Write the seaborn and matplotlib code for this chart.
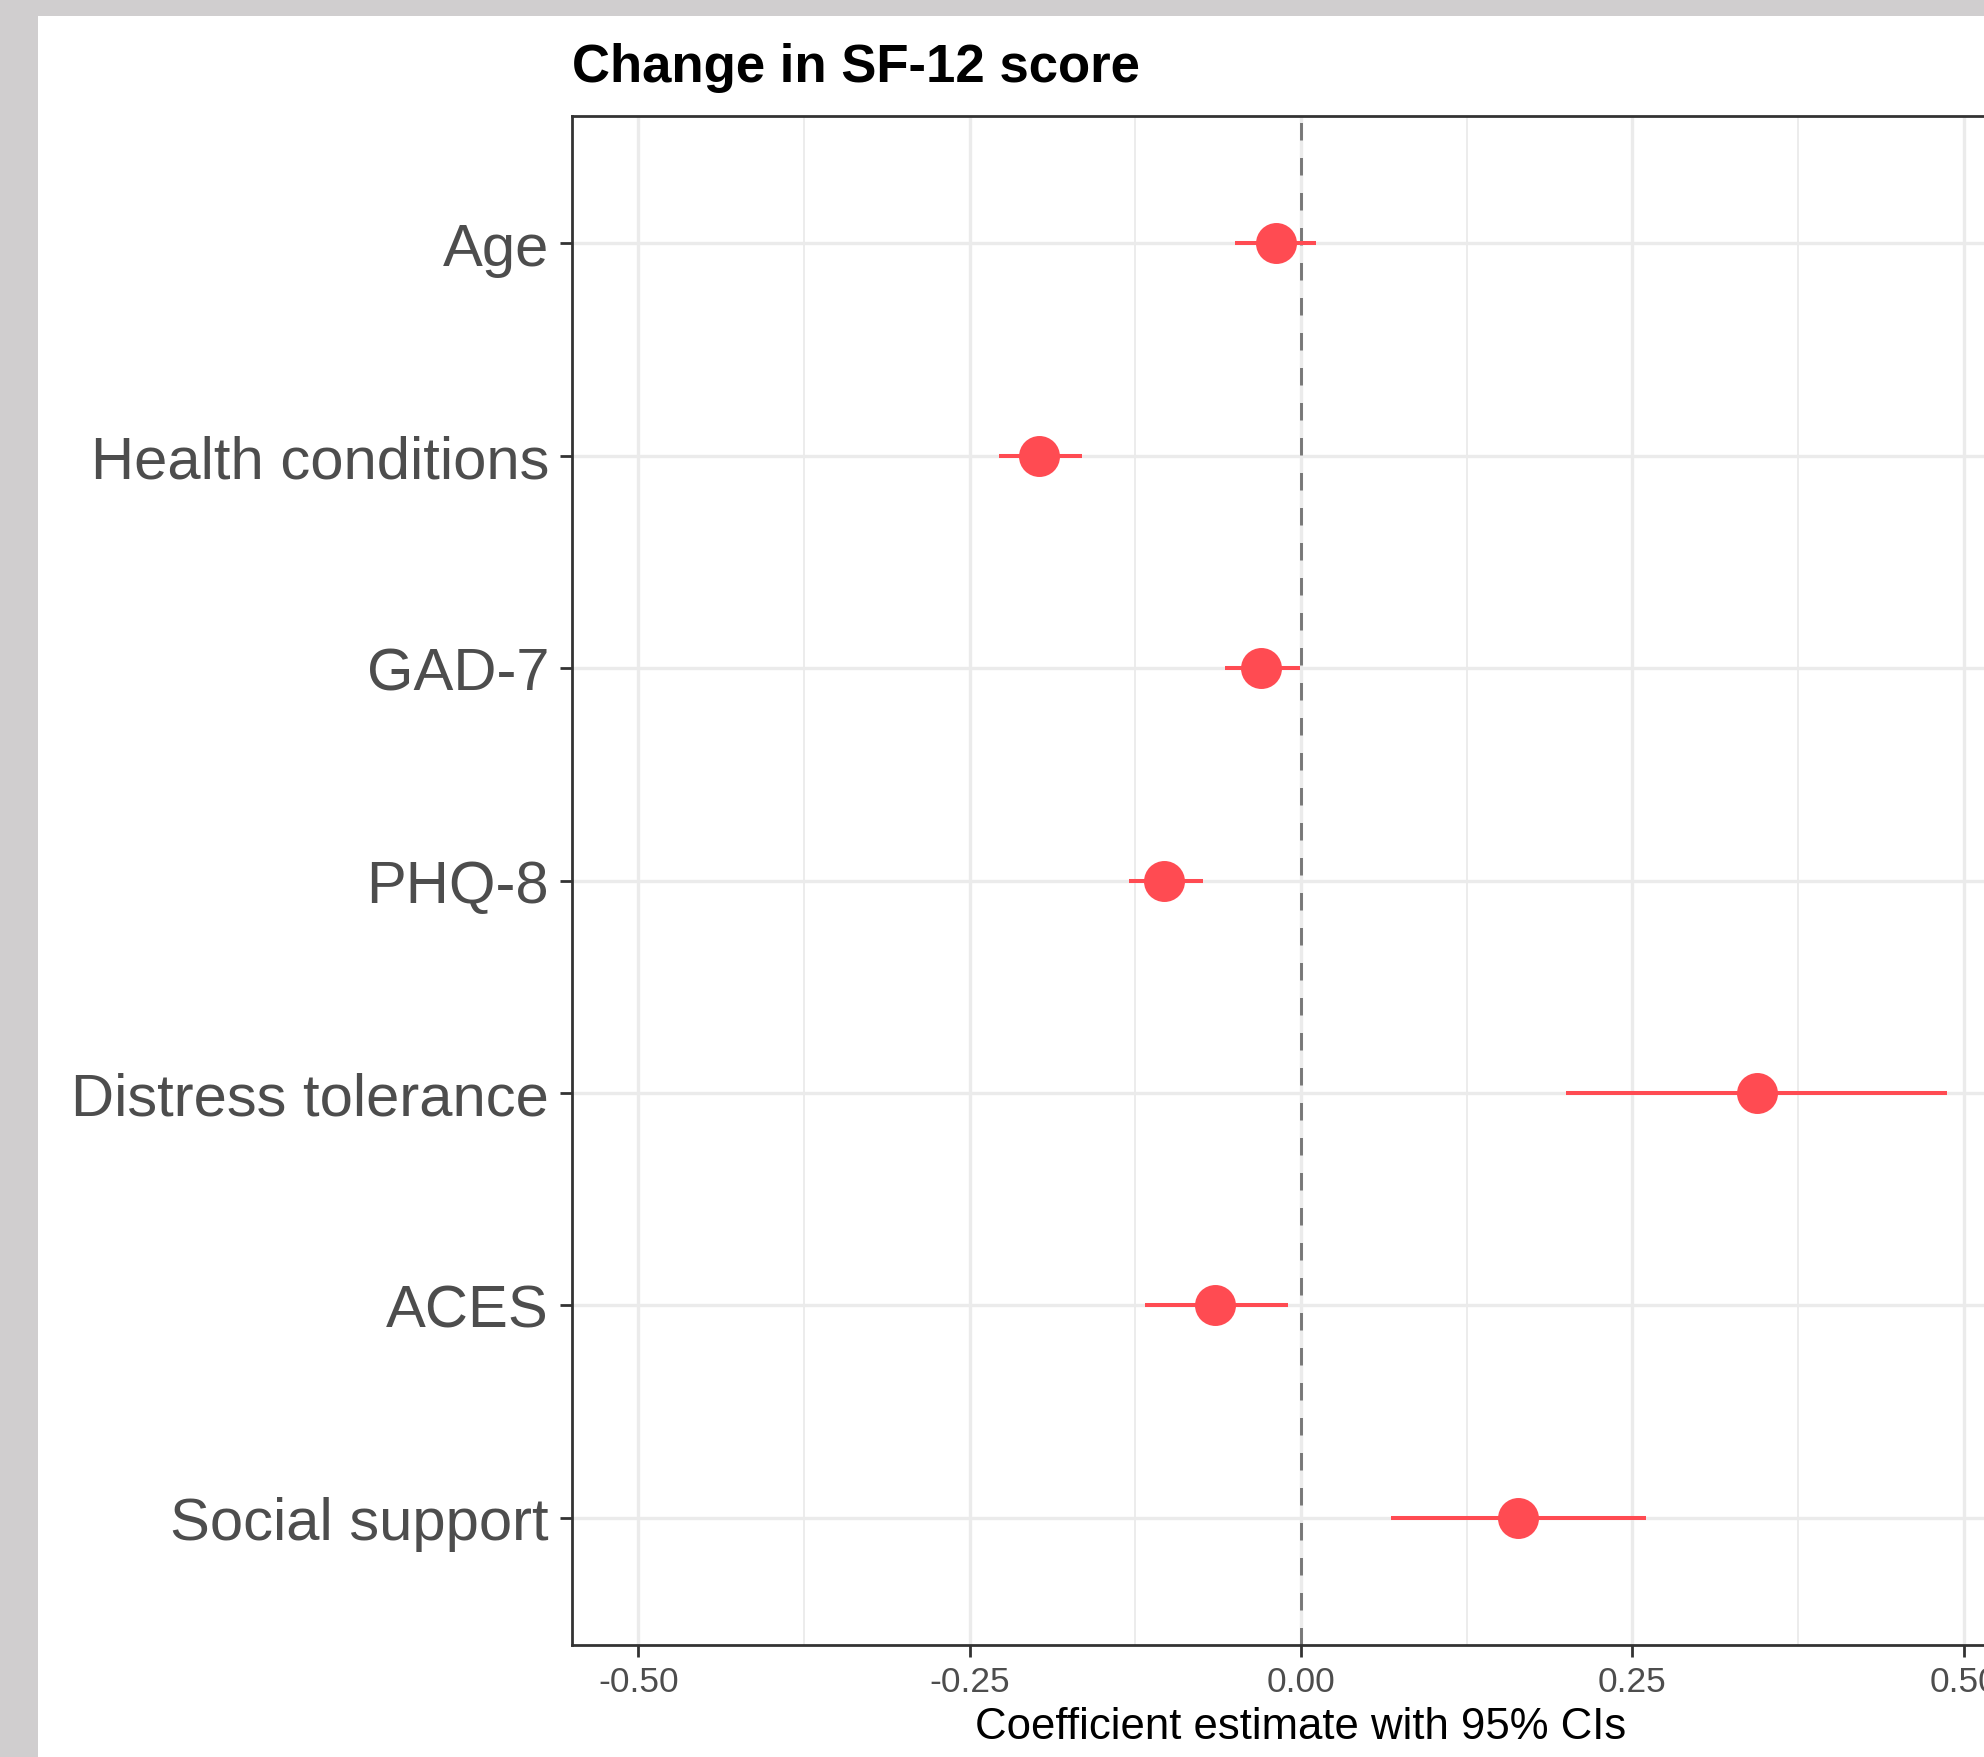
import numpy as np
import pandas as pd
import matplotlib.pyplot as plt
import seaborn as sns
from matplotlib.patches import Rectangle
from matplotlib.ticker import MultipleLocator, FormatStrFormatter

# coefficient estimates
terms = ["Age", "Health conditions", "GAD-7", "PHQ-8",
         "Distress tolerance", "ACES", "Social support"]
estimate = [-0.019, -0.198, -0.030, -0.103, 0.344, -0.065, 0.164]
ci_low = [-0.050, -0.228, -0.057, -0.130, 0.200, -0.118, 0.068]
ci_high = [0.011, -0.165, -0.001, -0.074, 0.487, -0.010, 0.260]

point_color = "#ff4b52"

df = pd.DataFrame({"term": terms, "estimate": estimate,
                   "low": ci_low, "high": ci_high})

sns.set_theme(style="ticks")
plt.rcParams["font.family"] = ["Liberation Sans", "DejaVu Sans"]
plt.rcParams["axes.unicode_minus"] = False

fig = plt.figure(figsize=(19.84, 17.58), dpi=100)
fig.patch.set_facecolor("#d0cecf")
fig.add_artist(Rectangle((38 / 1984, 0), 1, 1 - 17 / 1758,
                         transform=fig.transFigure, facecolor="white",
                         edgecolor="none", zorder=-1))

# axes runs past the right edge, like the cropped screenshot
ax = fig.add_axes([0.2883, 0.0637, 0.7349, 0.8697])
ax.set_facecolor("white")

pos = np.arange(len(terms))
ax.hlines(pos, df["low"], df["high"], color=point_color, lw=2.9, zorder=3)
sns.pointplot(data=df, x="estimate", y="term", order=terms,
              color=point_color, linestyle="none", errorbar=None,
              markersize=29.5, markeredgewidth=0, ax=ax)
for coll in ax.lines:
    coll.set_zorder(4)

ax.axvline(0, color="#777777", lw=2.1, ls=(0, (6, 6)), zorder=2.5)

ax.set_xlim(-0.55, 0.55)
ax.set_ylim(len(terms) - 1 + 0.6, -0.6)

ax.xaxis.set_major_locator(MultipleLocator(0.25))
ax.xaxis.set_minor_locator(MultipleLocator(0.125))
ax.xaxis.set_major_formatter(FormatStrFormatter("%.2f"))

ax.set_axisbelow(True)
ax.grid(which="major", axis="both", color="#ebebeb", lw=2.4)
ax.grid(which="minor", axis="x", color="#ebebeb", lw=1.3)

for side in ["left", "right", "top", "bottom"]:
    ax.spines[side].set_visible(True)
    ax.spines[side].set_color("#333333")
    ax.spines[side].set_linewidth(2.0)

ax.tick_params(axis="y", which="major", length=8.5, width=2.0,
               color="#333333", labelsize=43, labelcolor="#4d4d4d", pad=8)
ax.tick_params(axis="x", which="major", length=8.5, width=2.0,
               color="#333333", labelsize=25.5, labelcolor="#4d4d4d", pad=6)
ax.tick_params(axis="x", which="minor", length=0)

ax.set_ylabel("")
ax.set_xlabel("Coefficient estimate with 95% CIs", fontsize=31.5,
              color="black", labelpad=6)
ax.set_title("Change in SF-12 score", loc="left", fontsize=38,
             fontweight="bold", color="black", pad=25)

fig.savefig("out.png", dpi=100)
